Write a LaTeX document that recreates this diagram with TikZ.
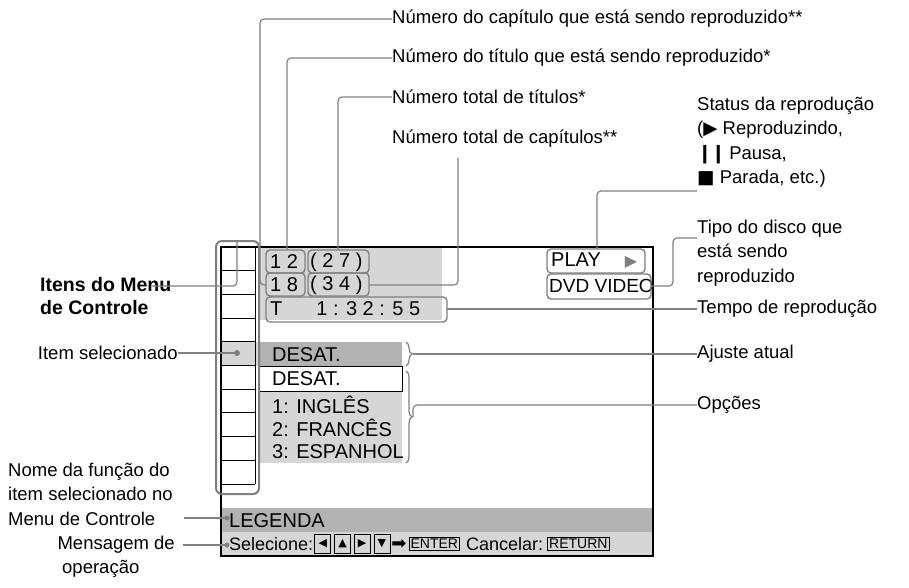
\documentclass[tikz,border=0pt]{standalone}
\usepackage{fontspec}
\setmainfont{Liberation Sans}
\newfontfamily\symfont{DejaVu Sans}
\usetikzlibrary{positioning,decorations.pathreplacing}
\definecolor{scrgray}{gray}{0.84}
\definecolor{selgray}{gray}{0.70}
\definecolor{leadgray}{gray}{0.50}
\tikzset{
  lbl/.style={font=\fontsize{18.5}{24.5}\selectfont, inner sep=0pt},
  scr/.style={font=\fontsize{20}{22}\selectfont, inner sep=0pt, anchor=west},
  tag/.style={draw=leadgray, line width=1.4pt, rounded corners=4pt},
  lead/.style={draw=leadgray, line width=1.2pt, rounded corners=4pt},
  curl/.style={draw=leadgray, line width=1.2pt, decorate, decoration={brace, amplitude=6pt}},
  key/.style={draw, line width=0.7pt, inner sep=1.5pt, font=\fontsize{14}{14}\selectfont},
  arrkey/.style={key, minimum width=16pt, minimum height=19pt, inner sep=0pt, font=\symfont\fontsize{11}{11}\selectfont},
}
\begin{document}
\begin{tikzpicture}[x=1pt,y=-1pt]
    \useasboundingbox (0,0) rectangle (909,587);
    % Screen
    \fill[scrgray] (258,247) rectangle (442,320);
    \fill[scrgray] (221,342) rectangle (258,366);
    \fill[selgray] (258,342) rectangle (402,366);
    \fill[scrgray] (258,391) rectangle (402,463);
    \fill[selgray] (221,508) rectangle (653,532);
    \fill[scrgray] (221,532) rectangle (653,556);
    \draw[line width=1pt] (258,366) rectangle (402,391);
    \draw[line width=1.5pt] (221,247) rectangle (653,556);
    % Menu column
    \foreach \i in {0,...,10}
      \draw[line width=1pt] (221,247+23.7*\i) -- (255,247+23.7*\i);
    \draw[line width=1pt] (255,247) -- (255,484);
    \draw[lead, line width=2pt, rounded corners=6pt] (216,241) rectangle (259,494);
    \coordinate (menutop) at (237,241);
    \fill[leadgray] (237,353) circle (3pt) coordinate (seldot);
    % Status fields
    \node[scr] (chap) at (270,285) {1 8};
    \node[scr] (tit) at (270,262) {1 2};
    \node[scr] (tott) at (310,262) {( 2 7 )};
    \node[scr] (totc) at (310,285) {( 3 4 )};
    \node[scr] (time) at (270,309) {T\hspace{34pt}1 : 3 2 : 5 5};
    \draw[tag] (266,250) rectangle (305,273);
    \draw[tag] (308,250) rectangle (369,273);
    \draw[tag] (266,273) rectangle (305,296);
    \draw[tag] (308,273) rectangle (369,296);
    \draw[tag] (266,297) rectangle (447,322);
    \coordinate (timeR) at (447,309);
    \coordinate (chapL) at (266,285);
    \coordinate (totcR) at (369,285);
    \node[scr] (play) at (551,261) {PLAY\hspace{24pt}{\color{leadgray}\symfont\fontsize{16}{16}\selectfont ▶}};
    \draw[tag] (547,249) rectangle (645,273);
    \node[scr, font=\fontsize{19}{22}\selectfont] (disc) at (549,286) {DVD VIDEO};
    \draw[tag] (547,274) rectangle (651,299);
    \coordinate (discR) at (651,286);
    % Setting and options
    \node[scr] (cur) at (272,355) {DESAT.};
    \node[scr] (opt0) at (272,379) {DESAT.};
    \node[scr] (opt1) at (272,405) {1: INGLÊS};
    \node[scr] (opt2) at (272,428) {2: FRANCÊS};
    \node[scr] (opt3) at (272,452) {3: ESPANHOL};
    \draw[curl] (406,342) -- (406,366);
    \draw[curl] (406,371) -- (406,463);
    \coordinate (curR) at (413,354);
    \coordinate (optR) at (413,417);
    % Bottom bar
    \node[scr] (func) at (229,521) {LEGENDA};
    \node[scr, font=\fontsize{18}{20}\selectfont] (msg) at (229,544) {Selecione:};
    \node[arrkey, right=1pt of msg] (k1) {◀};
    \node[arrkey, right=3pt of k1] (k2) {▲};
    \node[arrkey, right=3pt of k2] (k3) {▶};
    \node[arrkey, right=3pt of k3] (k4) {▼};
    \node[right=0pt of k4, inner sep=1pt, font=\symfont\fontsize{18}{18}\selectfont] (arr) {➡};
    \node[key, right=1pt of arr] (enter) {ENTER};
    \node[right=6pt of enter, inner sep=0pt, font=\fontsize{18}{20}\selectfont] (canc) {Cancelar:};
    \node[key, right=4pt of canc] (ret) {RETURN};
    \fill[leadgray] (227,518) circle (2.5pt) coordinate (funcdot);
    \fill[leadgray] (227,545) circle (2.5pt) coordinate (msgdot);
    % Labels
    \node[lbl, anchor=west] (lchap) at (392,19) {Número do capítulo que está sendo reproduzido**};
    \node[lbl, anchor=west] (ltit) at (392,58) {Número do título que está sendo reproduzido*};
    \node[lbl, anchor=west] (ltott) at (392,97) {Número total de títulos*};
    \node[lbl, anchor=west] (ltotc) at (392,139) {Número total de capítulos**};
    \node[lbl, anchor=west, align=left] (lstat) at (697,142) {Status da reprodução\\({\symfont ▶} Reproduzindo,\\{\symfont ❙\kern-2pt❙}\,Pausa,\\{\symfont ■} Parada, etc.)};
    \node[lbl, anchor=west, align=left] (ldisc) at (697,253) {Tipo do disco que\\está sendo\\reproduzido};
    \node[lbl, anchor=west] (ltime) at (697,309) {Tempo de reprodução};
    \node[lbl, anchor=west] (lcur) at (697,354) {Ajuste atual};
    \node[lbl, anchor=west] (lopt) at (697,405) {Opções};
    \node[lbl, anchor=west, align=left, font=\bfseries\fontsize{19.5}{23}\selectfont] (lmenu) at (40,296) {Itens do Menu\\de Controle};
    \node[lbl, anchor=east] (lsel) at (178,353) {Item selecionado};
    \node[lbl, anchor=west, align=left] (lfunc) at (8,494) {Nome da função do\\item selecionado no\\Menu de Controle};
    \node[lbl, anchor=east] (lmsg) at (175,545) {Mensagem de};
    \node[lbl, anchor=west] (lmsg2) at (62,569) {operação};
    % Leaders
    \draw[lead] (lchap.west) -| (260,285) -- (chapL);
    \draw[lead] (ltit.west) -| (287,250);
    \draw[lead] (ltott.west) -| (338,250);
    \draw[lead] (458,158) |- (totcR);
    \draw[lead] (lstat.west |- 0,191) -| (597,249);
    \draw[lead] (697,238) -| (673,286) -- (discR);
    \draw[lead] (timeR) -- (ltime.west);
    \draw[lead] (curR) -- (lcur.west);
    \draw[lead] (optR) |- (lopt.west);
    \draw[lead] (152,286) -| (menutop);
    \draw[lead] (lsel.east) -- (seldot);
    \draw[lead] (184,518) -- (funcdot);
    \draw[lead] (lmsg.east) ++(8,0) -- (msgdot);
\end{tikzpicture}
\end{document}
